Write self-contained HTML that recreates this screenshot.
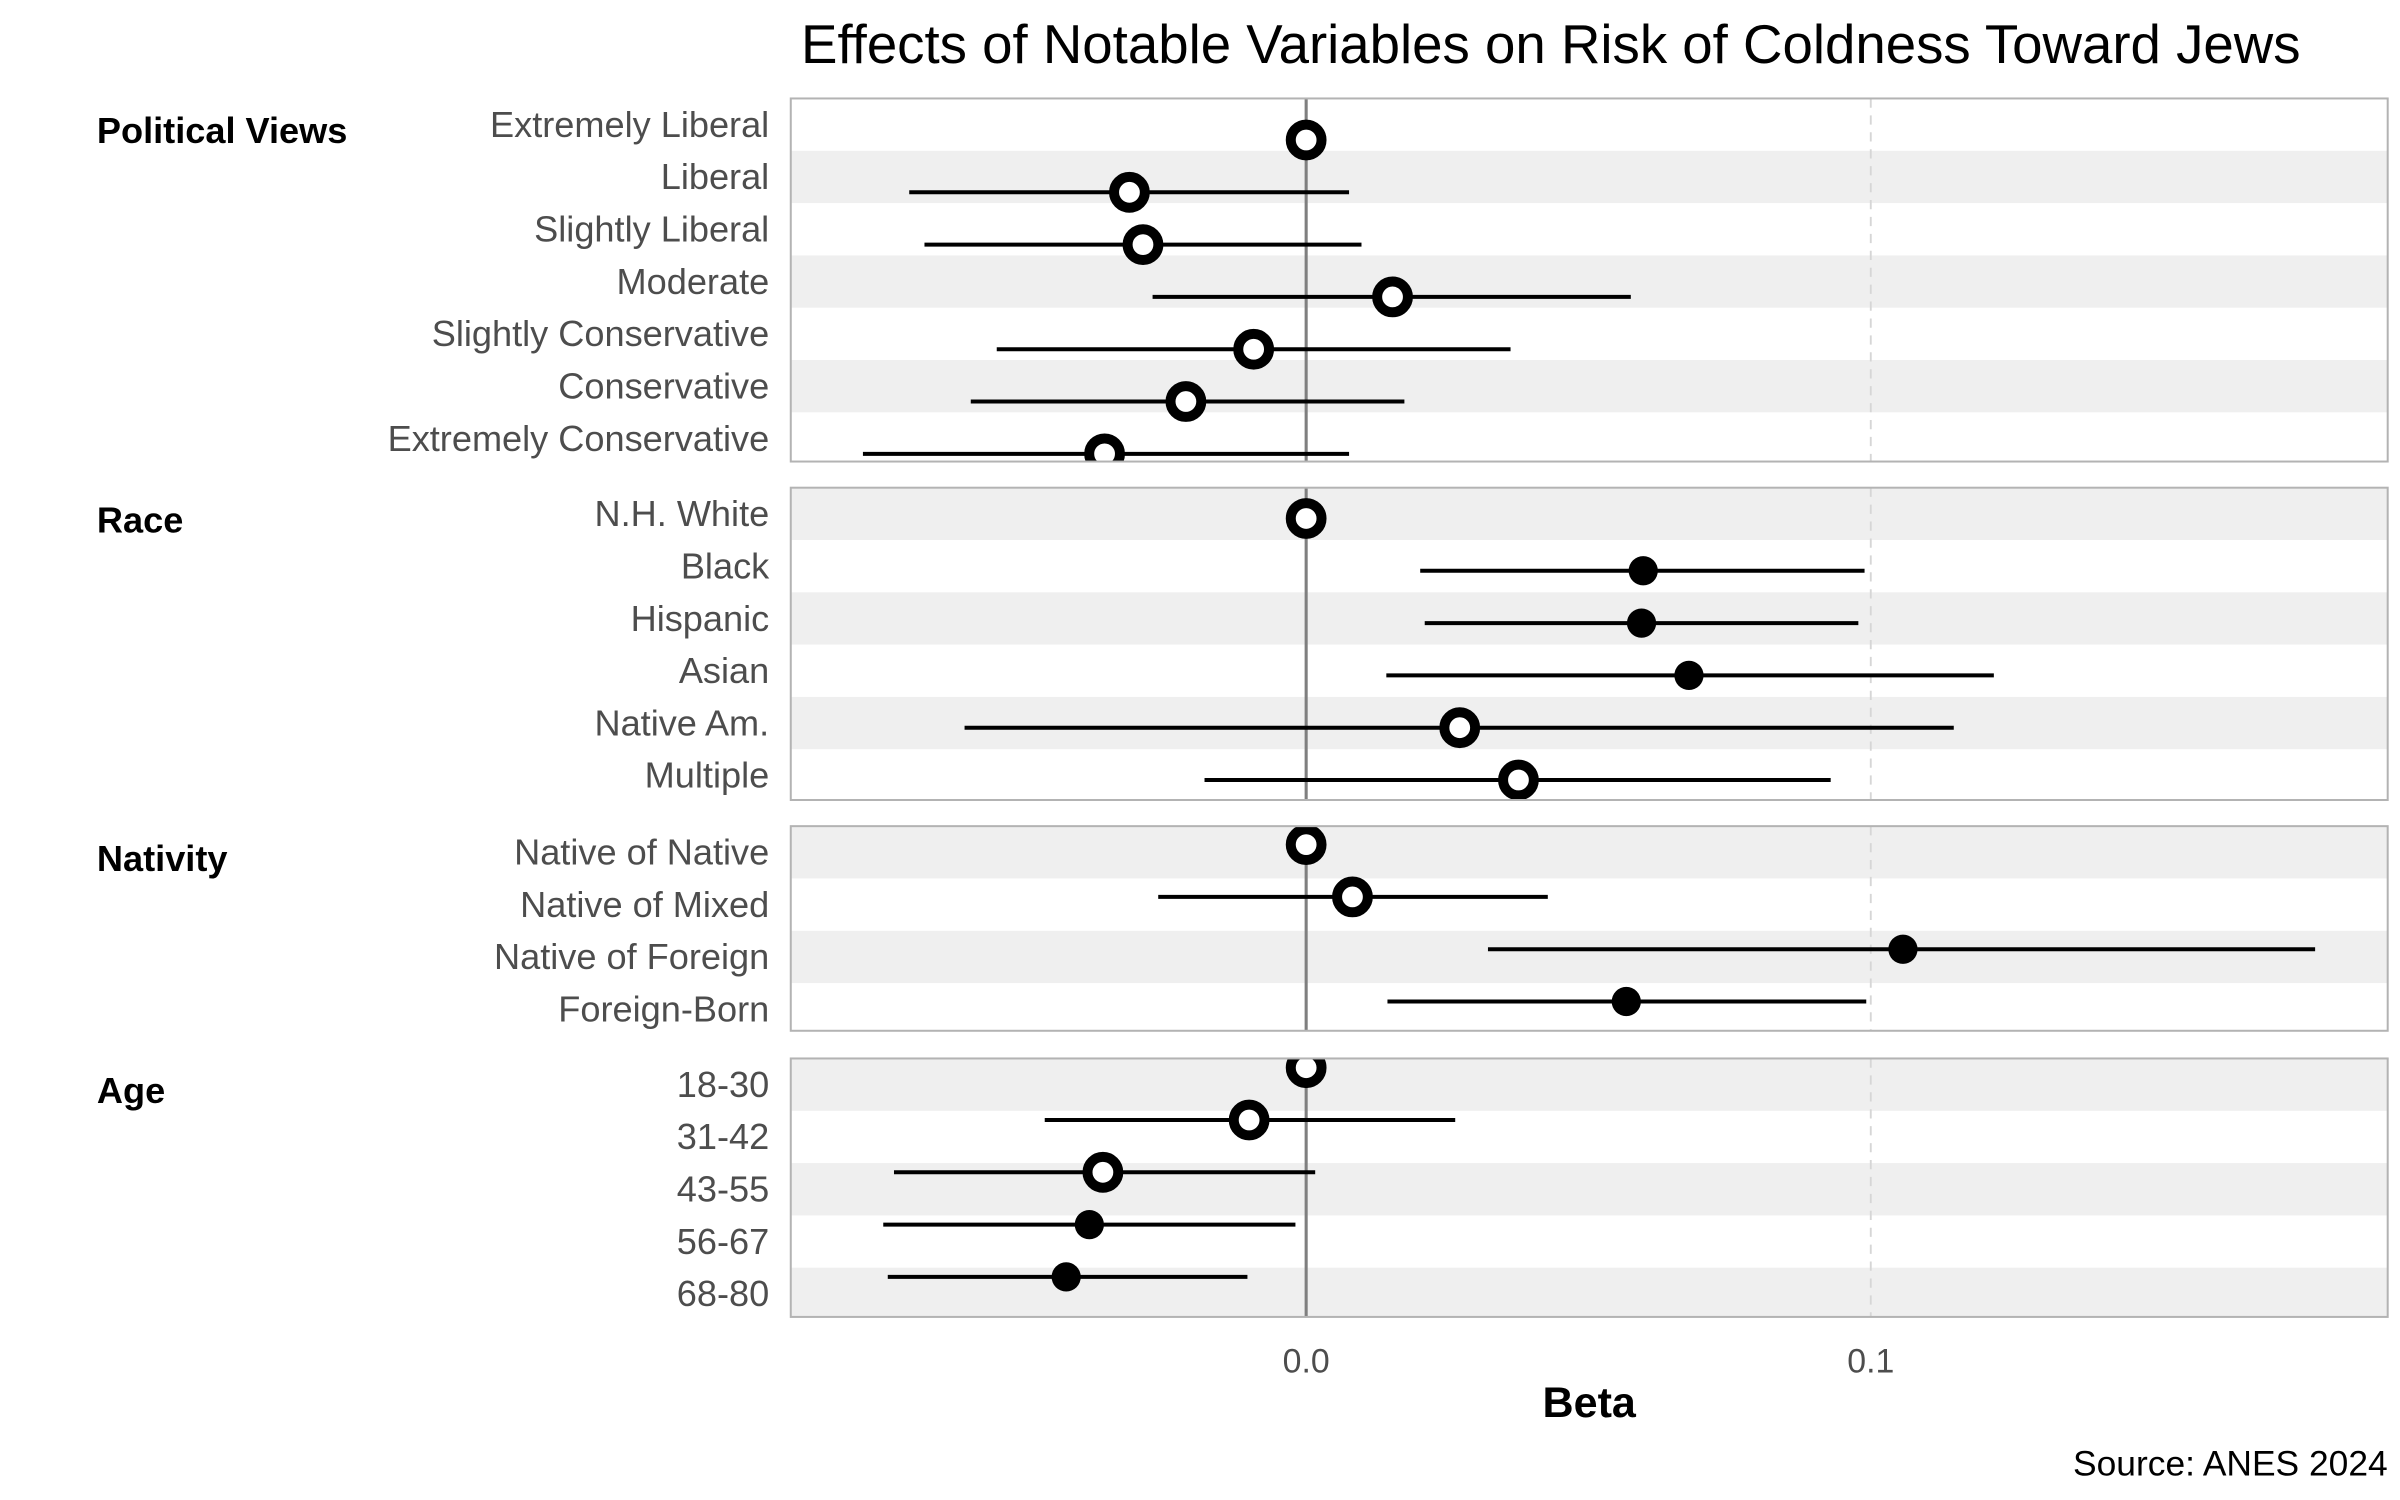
<!DOCTYPE html>
<html><head><meta charset="utf-8"><style>
html,body{margin:0;padding:0;background:#fff}
svg{display:block}
text{font-family:"Liberation Sans",Arial,sans-serif}
</style></head><body>
<svg id="chart" width="2400" height="1500" viewBox="0 0 1560 975" xmlns="http://www.w3.org/2000/svg">
<text x="1008" y="41" font-size="35.5" text-anchor="middle" fill="#000">Effects of Notable Variables on Risk of Coldness Toward Jews</text>
<g id="panels"></g>
<text x="849" y="892" font-size="22" text-anchor="middle" fill="#4d4d4d">0.0</text>
<text x="1216" y="892" font-size="22" text-anchor="middle" fill="#4d4d4d">0.1</text>
<text x="1033" y="921" font-size="28" font-weight="bold" text-anchor="middle" fill="#000">Beta</text>
<text x="1552" y="959" font-size="23" text-anchor="end" fill="#000">Source: ANES 2024</text>
</svg>
<script>
const groups = ["Political Views","Race","Nativity","Age"];
const labels = [
 ["Extremely Liberal","Liberal","Slightly Liberal","Moderate","Slightly Conservative","Conservative","Extremely Conservative"],
 ["N.H. White","Black","Hispanic","Asian","Native Am.","Multiple"],
 ["Native of Native","Native of Mixed","Native of Foreign","Foreign-Born"],
 ["18-30","31-42","43-55","56-67","68-80"]
];
const betas = [
 [0,-0.0313,-0.0289,0.0153,-0.0093,-0.0213,-0.0357],
 [0,0.0597,0.0594,0.0678,0.0272,0.0376],
 [0,0.0082,0.1057,0.0567],
 [0,-0.0101,-0.0360,-0.0384,-0.0425]
];
const lows = [
 [0,-0.0703,-0.0676,-0.0272,-0.0548,-0.0594,-0.0785],
 [0,0.0202,0.0210,0.0142,-0.0605,-0.0180],
 [0,-0.0262,0.0322,0.0144],
 [0,-0.0463,-0.0730,-0.0749,-0.0741]
];
const highs = [
 [0,0.0076,0.0098,0.0575,0.0362,0.0174,0.0076],
 [0,0.0989,0.0978,0.1218,0.1147,0.0929],
 [0,0.0428,0.1787,0.0992],
 [0,0.0264,0.0016,-0.0019,-0.0104]
];
const significant = [
 [0,0,0,0,0,0,0],
 [0,1,1,1,0,0],
 [0,0,1,1],
 [0,0,0,1,1]
];
const panelTops=[64,317,537,688], panelBots=[300,520,670,856], ptOffset=[10,3,-5,-11];
const X0=514,X1=1552;
function xs(v){return 849+v*3670;}
const NS="http://www.w3.org/2000/svg";
const root=document.getElementById('panels');
function mk(tag,attrs,parent){const e=document.createElementNS(NS,tag);for(const k in attrs)e.setAttribute(k,attrs[k]);(parent||root).appendChild(e);return e;}
const defs=mk('defs',{});
groups.forEach((g,p)=>{
 const top=panelTops[p],bot=panelBots[p],n=labels[p].length,rh=34;
 const gp=mk('g',{});
 
 
 const cp=mk('clipPath',{id:'cp'+p},defs);
 mk('rect',{x:X0,y:top,width:X1-X0,height:bot-top},cp);
 for(let i=0;i<n;i++){
  const y0=top+i*rh,y1=Math.min(bot,y0+rh);
  if(i%2===(p===0?1:0)) mk('rect',{x:X0,y:y0,width:X1-X0,height:y1-y0,fill:'#efefef'},gp);
 }
 mk('line',{x1:xs(0.1),x2:xs(0.1),y1:top,y2:bot,stroke:'#d6d6d6','stroke-width':1.2,'stroke-dasharray':'6,5'},gp);
 mk('line',{x1:xs(0),x2:xs(0),y1:top,y2:bot,stroke:'#7f7f7f','stroke-width':2},gp);
 const gl=mk('text',{x:63,y:top+29,'font-size':23.5,'font-weight':'bold',fill:'#000'},gp);
 gl.textContent=g;
 
 
 const marks=mk('g',{'clip-path':'url(#cp'+p+')'},gp);
 for(let i=0;i<n;i++){
  const cy=top+i*rh+rh/2;
  const t=mk('text',{x:500,y:cy+8,'font-size':23.5,'text-anchor':'end',fill:'#4d4d4d'},gp);
  t.textContent=labels[p][i];
  
  
  const py=cy+ptOffset[p];
  if(lows[p][i]!==highs[p][i]){
   const l=mk('line',{x1:xs(lows[p][i]),x2:xs(highs[p][i]),y1:py,y2:py,stroke:'#000','stroke-width':2.6},marks);
   
   
  }
  let c;
  if(significant[p][i]) c=mk('circle',{cx:xs(betas[p][i]),cy:py,r:9.5,fill:'#000'},marks);
  else c=mk('circle',{cx:xs(betas[p][i]),cy:py,r:10,fill:'#fff',stroke:'#000','stroke-width':6.5},marks);
  
  
 }
 mk('rect',{x:X0,y:top,width:X1-X0,height:bot-top,fill:'none',stroke:'#b3b3b3','stroke-width':1.3},gp);
});
</script>
</body></html>
